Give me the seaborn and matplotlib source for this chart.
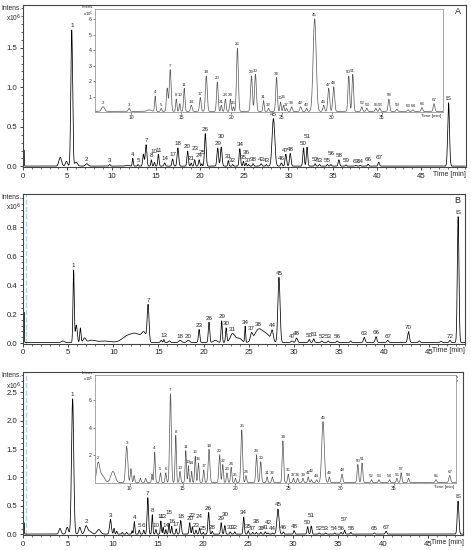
import numpy as np
import matplotlib
matplotlib.use("Agg")
import matplotlib.pyplot as plt
import seaborn as sns
from matplotlib.ticker import MultipleLocator

sns.set_theme(style="ticks")
plt.rcParams['font.family'] = ['Liberation Sans', 'DejaVu Sans']

# peak tables
# rt = retention time [min], h = intensity [x10^6], w = peak width (sigma) [min], lab = peak label

# --- A
a_rt = [0.1, 4.2, 4.9, 5.5, 6.0, 7.2, 9.8, 11.8, 12.4, 13.0, 13.6, 13.9, 14.5, 14.85, 15.3, 16.0,
        16.9, 17.5, 18.6, 19.0, 19.4, 19.9, 20.2, 20.6, 22.0, 22.4, 23.2, 23.7, 24.5, 24.9, 25.2,
        25.5, 26.0, 26.9, 27.5, 28.3, 29.2, 29.7, 30.2, 31.7, 32.1, 33.0, 33.5, 34.4, 34.8, 35.7,
        36.5, 37.6, 38.1, 39.0, 40.2, 48.1]
a_h = [0.2, 0.11, 0.06, 1.72, 0.05, 0.03, 0.02, 0.01, 0.1, 0.02, 0.15, 0.27, 0.08, 0.05, 0.15, 0.04,
       0.09, 0.23, 0.19, 0.04, 0.08, 0.08, 0.03, 0.41, 0.23, 0.24, 0.07, 0.02, 0.22, 0.06, 0.04,
       0.02, 0.03, 0.03, 0.02, 0.6, 0.04, 0.15, 0.16, 0.23, 0.24, 0.03, 0.02, 0.02, 0.02, 0.08,
       0.015, 0.01, 0.01, 0.025, 0.05, 0.8]
a_w = [0.03, 0.15, 0.12, 0.1, 0.15, 0.15, 0.08, 0.2, 0.06, 0.06, 0.08, 0.09, 0.06, 0.06, 0.07, 0.08,
       0.08, 0.09, 0.08, 0.06, 0.07, 0.07, 0.05, 0.09, 0.09, 0.09, 0.06, 0.06, 0.08, 0.06, 0.06,
       0.06, 0.07, 0.08, 0.06, 0.15, 0.08, 0.09, 0.09, 0.08, 0.08, 0.07, 0.07, 0.07, 0.07, 0.08,
       0.07, 0.07, 0.07, 0.07, 0.08, 0.1]
a_lab = ["", "", "", "1", "", "2", "3", "", "4", "5", "", "7", "8", "10", "11", "14",
         "17", "18", "20", "21", "23", "24", "25", "26", "29", "30", "31", "32", "34", "35", "36",
         "37", "38", "42", "43", "45", "46", "47", "48", "50", "51", "52", "53", "55", "56", "58",
         "59", "63", "64", "66", "67", "IS"]

# --- B
b_rt = [0.1, 4.4, 5.6, 5.9, 6.35, 6.8, 7.6, 9.0, 11.6, 12.6, 13.4, 13.85, 15.3, 15.6, 16.2, 17.4,
        18.3, 19.5, 20.6, 21.3, 22.0, 22.5, 23.2, 23.9, 24.6, 25.3, 26.1, 27.0, 27.6, 28.35, 29.8,
        30.3, 31.7, 32.2, 33.1, 33.8, 34.8, 36.3, 37.8, 39.1, 40.4, 42.7, 43.9, 46.3, 47.3, 48.2]
b_h = [0.21, 0.01, 0.5, 0.12, 0.1, 0.03, 0.015, 0.01, 0.045, 0.05, 0.06, 0.25, 0.015, 0.02, 0.01, 0.015,
       0.015, 0.09, 0.14, 0.015, 0.15, 0.1, 0.06, 0.03, 0.11, 0.05, 0.09, 0.05, 0.07, 0.45, 0.01,
       0.03, 0.02, 0.025, 0.01, 0.01, 0.01, 0.01, 0.035, 0.04, 0.015, 0.075, 0.01, 0.008, 0.015, 0.87]
b_w = [0.03, 0.15, 0.07, 0.1, 0.07, 0.15, 0.4, 0.6, 0.6, 0.5, 0.25, 0.1, 0.08, 0.06, 0.1, 0.15,
       0.15, 0.08, 0.08, 0.2, 0.07, 0.07, 0.25, 0.3, 0.05, 0.12, 0.45, 0.4, 0.12, 0.12, 0.1,
       0.1, 0.08, 0.08, 0.08, 0.08, 0.08, 0.08, 0.09, 0.09, 0.09, 0.1, 0.09, 0.08, 0.08, 0.09]
b_lab = ["", "", "1", "", "", "", "", "", "", "", "", "7", "", "13", "", "18",
         "20", "23", "26", "", "29", "30", "31", "", "34", "37", "38", "", "44", "45", "47",
         "48", "50", "51", "52", "53", "56", "", "63", "66", "67", "70", "", "", "72", "IS"]

# --- C
c_rt = [0.1, 4.1, 4.9, 5.5, 6.3, 7.0, 7.4, 8.4, 9.7, 10.1, 10.4, 11.0, 11.5, 12.1, 12.35, 12.9,
        13.4, 13.85, 14.35, 14.75, 15.3, 15.55, 15.85, 16.2, 16.5, 17.0, 17.5, 18.5, 18.8, 19.2,
        19.6, 20.0, 20.6, 21.0, 22.0, 22.4, 23.0, 23.5, 24.5, 25.0, 25.5, 25.9, 26.4, 26.9, 27.2,
        27.7, 28.3, 28.9, 30.1, 31.6, 32.0, 32.9, 33.6, 34.6, 35.3, 35.7, 36.4, 39.0, 40.3, 48.3]
c_h = [0.2, 0.1, 0.12, 2.38, 0.12, 0.14, 0.05, 0.08, 0.26, 0.1, 0.05, 0.03, 0.03, 0.06, 0.22, 0.07,
       0.07, 0.64, 0.34, 0.08, 0.23, 0.12, 0.08, 0.19, 0.14, 0.09, 0.24, 0.2, 0.13, 0.07,
       0.11, 0.03, 0.38, 0.05, 0.2, 0.15, 0.04, 0.04, 0.3, 0.06, 0.03, 0.03, 0.03, 0.04, 0.02,
       0.02, 0.44, 0.04, 0.06, 0.13, 0.14, 0.02, 0.02, 0.02, 0.03, 0.07, 0.03, 0.02, 0.05, 0.58]
c_w = [0.03, 0.12, 0.12, 0.12, 0.12, 0.15, 0.2, 0.2, 0.1, 0.06, 0.06, 0.06, 0.06, 0.05, 0.06, 0.06,
       0.06, 0.08, 0.06, 0.06, 0.06, 0.05, 0.05, 0.06, 0.06, 0.06, 0.08, 0.07, 0.06, 0.06,
       0.06, 0.05, 0.08, 0.06, 0.07, 0.07, 0.06, 0.06, 0.07, 0.06, 0.06, 0.06, 0.06, 0.06, 0.06,
       0.06, 0.12, 0.06, 0.07, 0.07, 0.07, 0.06, 0.06, 0.06, 0.06, 0.06, 0.06, 0.07, 0.08, 0.09]
c_lab = ["", "", "", "1", "", "2", "", "", "3", "", "", "", "", "", "4", "5",
         "6", "7", "8", "10", "11", "13", "14", "15", "16", "17", "18", "20", "22", "23",
         "24", "25", "26", "28", "29", "30", "31", "32", "34", "35", "37", "38", "39", "41", "42",
         "44", "45", "46", "48", "50", "51", "52", "53", "54", "56", "57", "58", "65", "67", "IS"]

t = np.linspace(0, 50, 8001)


def trace(rt, h, w):
    y = np.full_like(t, 0.004)
    for r, hh, ww in zip(rt, h, w):
        y += hh * np.exp(-0.5 * ((t - r) / ww) ** 2)
    return y


def draw(ax, rt, h, w, lab, scale=1.0, color="black", lw=0.55, fs=4.5, gap=0.45):
    y = trace(rt, h, w) * scale
    sns.lineplot(x=t, y=y, ax=ax, color=color, lw=lw, estimator=None)
    # neighbouring labels that would collide get lifted one line up
    ylo, yhi = ax.get_ylim()
    prev_r, prev_y, prev_lift = -99, -99, False
    for r, l in zip(rt, lab):
        if not l:
            continue
        yy = np.interp(r, t, y)
        close = (r - prev_r) < gap and abs(yy - prev_y) < 0.06 * (yhi - ylo)
        lift = close and not prev_lift
        ax.annotate(l, (r, yy), xytext=(0, 1.2 + (fs + 0.3 if lift else 0)),
                    textcoords="offset points", ha="center", va="bottom",
                    fontsize=fs, annotation_clip=True)
        prev_r, prev_y, prev_lift = r, yy, lift


def style_main(ax, xmax, ylim, yticks, ystep, letter):
    ax.set_xlim(0, xmax)
    ax.set_ylim(*ylim)
    ax.set_xticks(list(range(0, 50, 5)))
    ax.xaxis.set_minor_locator(MultipleLocator(1))
    ax.set_yticks(yticks)
    ax.yaxis.set_minor_locator(MultipleLocator(ystep / 5))
    ax.yaxis.set_major_formatter(matplotlib.ticker.FormatStrFormatter("%.1f"))
    ax.tick_params(labelsize=5.6, length=2.5, width=0.6, pad=1.5)
    ax.tick_params(which="minor", length=1.5, width=0.5)
    for s in ax.spines.values():
        s.set_color("#444444")
        s.set_linewidth(0.8)
    ax.set_xlabel("")
    ax.set_ylabel("")
    ax.text(1.0, -0.025, "Time [min]", transform=ax.transAxes, ha="right", va="top", fontsize=5)
    ax.text(-0.003, 1.0, "Intens.\nx10$^6$", transform=ax.transAxes, ha="right", va="top",
            fontsize=4.8, linespacing=1.1)
    ax.text(0.988, 0.985, letter, transform=ax.transAxes, ha="right", va="top", fontsize=6.5)


def style_inset(ax, xlim, ylim, yticks):
    ax.set_xlim(*xlim)
    ax.set_ylim(*ylim)
    ax.set_xticks([10, 15, 20, 25, 30, 35])
    ax.xaxis.set_minor_locator(MultipleLocator(1))
    ax.set_yticks(yticks)
    ax.tick_params(labelsize=3.6, length=1.5, width=0.4, pad=1)
    ax.tick_params(which="minor", length=0.8, width=0.3)
    for s in ax.spines.values():
        s.set_color("#999999")
        s.set_linewidth(0.6)
    ax.set_xlabel("")
    ax.set_ylabel("")
    ax.text(0.995, -0.02, "Time [min]", transform=ax.transAxes, ha="right", va="top", fontsize=3.2)
    ax.text(-0.004, 1.04, "Intens.\nx10$^5$", transform=ax.transAxes, ha="right", va="top",
            fontsize=3.0, linespacing=1.0)


fig = plt.figure(figsize=(4.71, 5.5), dpi=100)

axA = fig.add_axes([0.049, 0.696, 0.941, 0.295])
axA.set_ylim(-0.01, 2.04)
draw(axA, a_rt, a_h, a_w, a_lab)
style_main(axA, 50.1, (-0.01, 2.04), [0, 0.5, 1.0, 1.5], 0.5, "A")

insA = fig.add_axes([0.2017, 0.7964, 0.7389, 0.1864])
insA.set_ylim(0, 6.65)
draw(insA, a_rt, a_h, a_w, a_lab, scale=10, color="#555555", lw=0.5, fs=3.2, gap=0.35)
style_inset(insA, (6.4, 41.1), (0, 6.65), [1, 2, 3, 4, 5, 6])

axB = fig.add_axes([0.049, 0.375, 0.939, 0.272])
axB.set_ylim(-0.005, 1.03)
axB.axvline(0.35, color="#9fd6ee", ls="--", lw=1.0)
draw(axB, b_rt, b_h, b_w, b_lab)
style_main(axB, 49.0, (-0.005, 1.03), [0, 0.2, 0.4, 0.6, 0.8], 0.2, "B")

axC = fig.add_axes([0.049, 0.027, 0.935, 0.296])
axC.set_ylim(-0.015, 2.85)
axC.axvline(0.35, color="#9fd6ee", ls="--", lw=1.0)
draw(axC, c_rt, c_h, c_w, c_lab)
style_main(axC, 48.9, (-0.015, 2.85), [0, 0.5, 1.0, 1.5, 2.0, 2.5], 0.5, "C")

insC = fig.add_axes([0.2017, 0.1218, 0.7665, 0.1964])
insC.set_ylim(0, 7.8)
draw(insC, c_rt, c_h, c_w, c_lab, scale=10, color="#555555", lw=0.5, fs=3.2, gap=0.35)
style_inset(insC, (6.7, 40.9), (0, 7.8), [2, 4, 6])

fig.savefig("out.png", dpi=100)
